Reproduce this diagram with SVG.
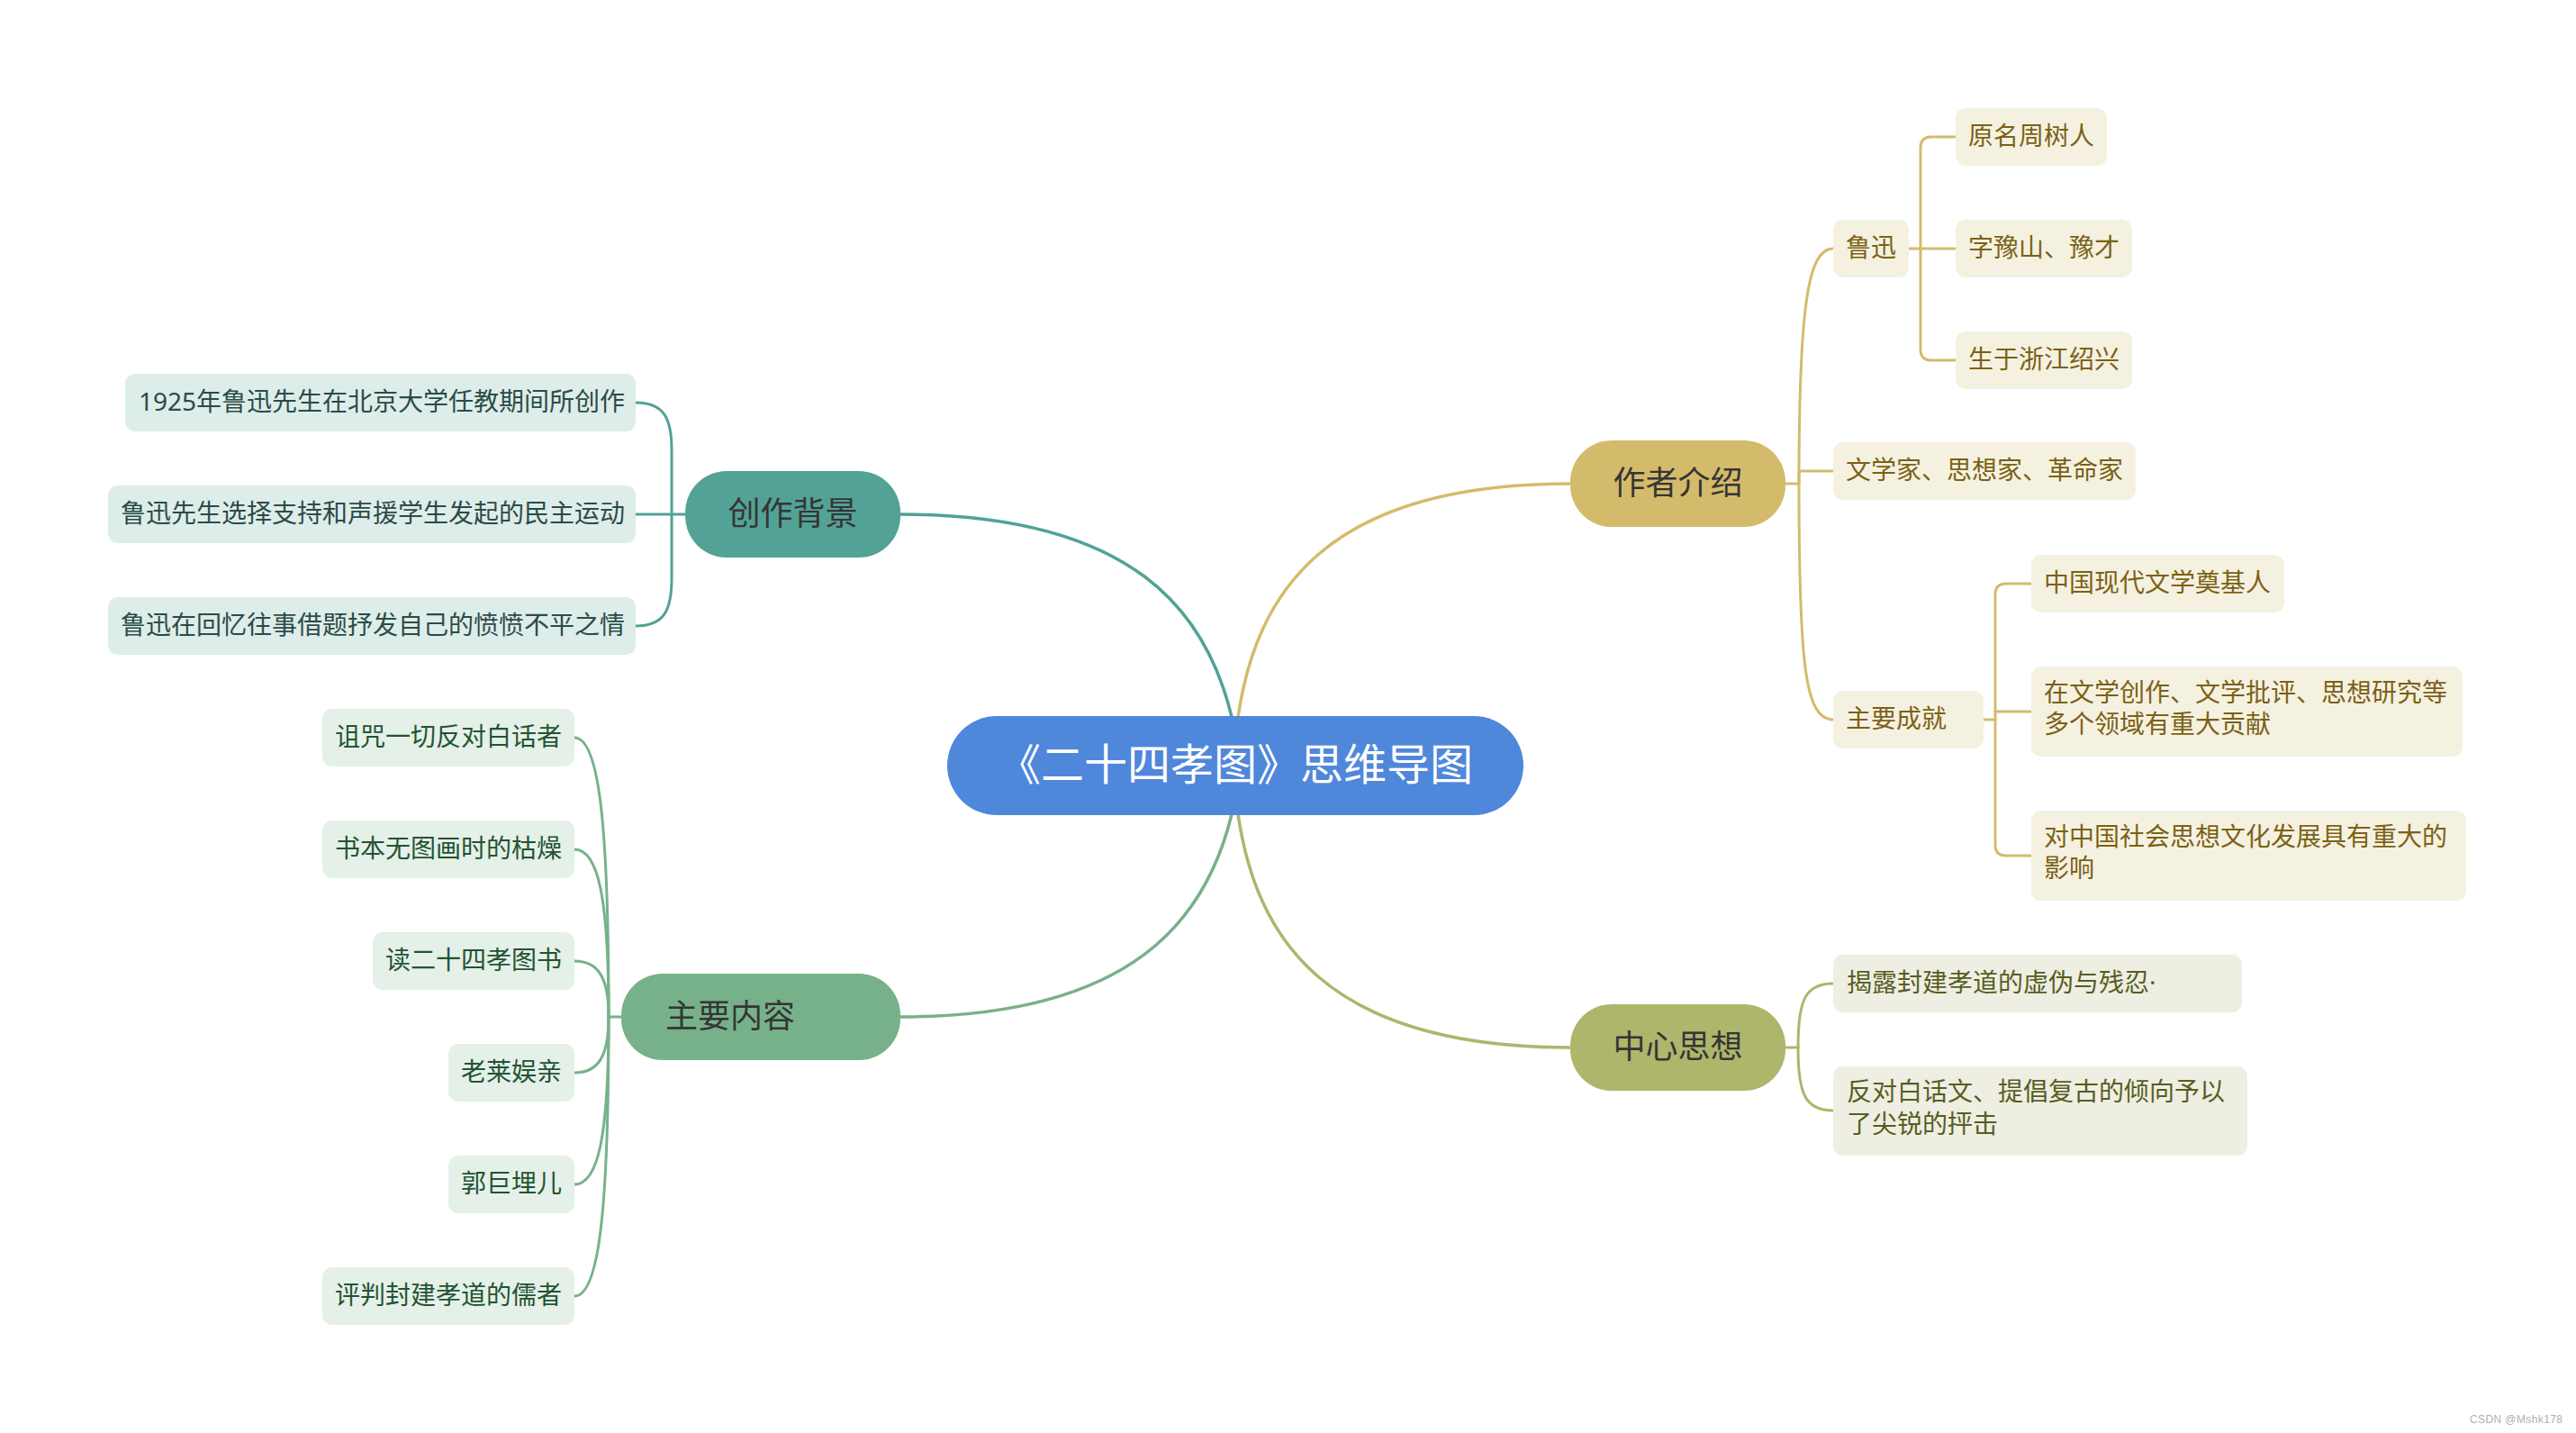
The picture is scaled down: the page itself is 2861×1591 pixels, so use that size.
<svg xmlns="http://www.w3.org/2000/svg" width="2861" height="1591" viewBox="0 0 2861 1591">
<style>
text{font-family:"Noto Sans","Noto Sans CJK SC",sans-serif}
.c{fill:none;stroke-width:3;stroke-linecap:round;stroke-linejoin:round}
.m{stroke-width:3.5}
.teal{stroke:#52a296}.green{stroke:#77b18a}.gold{stroke:#d4bb6b}.olive{stroke:#adb66b}
.l1{font-size:36px;fill:#353535}
.t2{font-size:28px}
.bt{fill:#ddedea}.tt{fill:#2c4b46}
.bg{fill:#e4f0e8}.tg{fill:#235332}
.bo{fill:#f5f1e1}.to{fill:#7b6115}
.bv{fill:#eeeee2}.tv{fill:#575d1f}
</style>
<rect width="2861" height="1591" fill="#ffffff"/>
<g id="connectors">
<path class="c m teal" d="M 1368 796 C 1340 680, 1260 571, 1000 571"/>
<path class="c m gold" d="M 1375 796 C 1395 660, 1470 537, 1744 537"/>
<path class="c m green" d="M 1368 904 C 1340 1019, 1260 1129, 1000 1129"/>
<path class="c m olive" d="M 1375 904 C 1395 1040, 1470 1163, 1744 1163"/>
<path class="c teal" d="M 761 571 L 706 571"/>
<path class="c teal" d="M 746 571 L 746 500 C 746 465, 738 447, 706 447"/>
<path class="c teal" d="M 746 571 L 746 642 C 746 677, 738 695, 706 695"/>
<path class="c green" d="M 690 1129 L 676 1129"/>
<path class="c green" d="M 638 819 C 665 819, 676 912, 676 1129"/>
<path class="c green" d="M 638 943 C 665 943, 676 999, 676 1129"/>
<path class="c green" d="M 638 1067 C 665 1067, 676 1086, 676 1129"/>
<path class="c green" d="M 638 1191 C 665 1191, 676 1172, 676 1129"/>
<path class="c green" d="M 638 1315 C 665 1315, 676 1259, 676 1129"/>
<path class="c green" d="M 638 1439 C 665 1439, 676 1346, 676 1129"/>
<path class="c gold" d="M 1983 537 L 1998 537"/>
<path class="c gold" d="M 1998 537 C 1998 340, 2008 276, 2036 276"/>
<path class="c gold" d="M 1998 537 L 1998 523 L 2036 523"/>
<path class="c gold" d="M 1998 537 C 1998 740, 2005 799, 2036 799"/>
<path class="c gold" d="M 2120 276 L 2172 276"/>
<path class="c gold" d="M 2133 276 L 2133 164 Q 2133 152 2145 152 L 2172 152"/>
<path class="c gold" d="M 2133 276 L 2133 388 Q 2133 400 2145 400 L 2172 400"/>
<path class="c gold" d="M 2203 799 L 2216 799"/>
<path class="c gold" d="M 2216 790 L 2256 790"/>
<path class="c gold" d="M 2216 799 L 2216 660 Q 2216 648 2228 648 L 2256 648"/>
<path class="c gold" d="M 2216 799 L 2216 938 Q 2216 950 2228 950 L 2256 950"/>
<path class="c olive" d="M 1983 1163 L 1997 1163"/>
<path class="c olive" d="M 1997 1163 C 1997 1110, 2005 1092, 2036 1092"/>
<path class="c olive" d="M 1997 1163 C 1997 1215, 2005 1233, 2036 1233"/>
</g>
<g id="root">
<rect x="1052" y="795" width="640" height="110" rx="55" fill="#4f87db"/>
<text x="1372" y="866" font-size="48" fill="#ffffff" text-anchor="middle">《二十四孝图》思维导图</text>
</g>
<g id="n-chuangzuo">
<rect x="761" y="523" width="239" height="96" rx="46" fill="#52a296"/>
<text class="l1" x="880.5" y="582.5" text-anchor="middle">创作背景</text>
</g>
<g id="n-cz1"><rect class="bt" x="139" y="415" width="567" height="64" rx="11"/><text class="t2 tt" x="154" y="455.6">1925年鲁迅先生在北京大学任教期间所创作</text></g>
<g id="n-cz2"><rect class="bt" x="120" y="539" width="586" height="64" rx="11"/><text class="t2 tt" x="134" y="579.6">鲁迅先生选择支持和声援学生发起的民主运动</text></g>
<g id="n-cz3"><rect class="bt" x="120" y="663" width="586" height="64" rx="11"/><text class="t2 tt" x="134" y="703.6">鲁迅在回忆往事借题抒发自己的愤愤不平之情</text></g>
<g id="n-zhuyao">
<rect x="690" y="1081" width="310" height="96" rx="46" fill="#77b18a"/>
<text class="l1" x="739" y="1140.7">主要内容</text>
</g>
<g id="n-zy1"><rect class="bg" x="358" y="787" width="280" height="64" rx="11"/><text class="t2 tg" x="372" y="827.6">诅咒一切反对白话者</text></g>
<g id="n-zy2"><rect class="bg" x="358" y="911" width="280" height="64" rx="11"/><text class="t2 tg" x="372" y="951.6">书本无图画时的枯燥</text></g>
<g id="n-zy3"><rect class="bg" x="414" y="1035" width="224" height="64" rx="11"/><text class="t2 tg" x="428" y="1075.6">读二十四孝图书</text></g>
<g id="n-zy4"><rect class="bg" x="498" y="1159" width="140" height="64" rx="11"/><text class="t2 tg" x="512" y="1199.6">老莱娱亲</text></g>
<g id="n-zy5"><rect class="bg" x="498" y="1283" width="140" height="64" rx="11"/><text class="t2 tg" x="512" y="1323.6">郭巨埋儿</text></g>
<g id="n-zy6"><rect class="bg" x="358" y="1407" width="280" height="64" rx="11"/><text class="t2 tg" x="372" y="1447.6">评判封建孝道的儒者</text></g>
<g id="n-zuozhe">
<rect x="1744" y="489" width="239" height="96" rx="46" fill="#d4bb6b"/>
<text class="l1" x="1863.5" y="548.7" text-anchor="middle">作者介绍</text>
</g>
<g id="n-luxun"><rect class="bo" x="2036" y="244" width="84" height="64" rx="11"/><text class="t2 to" x="2050" y="284.6">鲁迅</text></g>
<g id="n-lx1"><rect class="bo" x="2172" y="120" width="168" height="64" rx="11"/><text class="t2 to" x="2186" y="160.6">原名周树人</text></g>
<g id="n-lx2"><rect class="bo" x="2172" y="244" width="196" height="64" rx="11"/><text class="t2 to" x="2186" y="284.6">字豫山、豫才</text></g>
<g id="n-lx3"><rect class="bo" x="2172" y="368" width="196" height="64" rx="11"/><text class="t2 to" x="2186" y="408.6">生于浙江绍兴</text></g>
<g id="n-wenxuejia"><rect class="bo" x="2036" y="491" width="336" height="64" rx="11"/><text class="t2 to" x="2050" y="531.6">文学家、思想家、革命家</text></g>
<g id="n-chengjiu"><rect class="bo" x="2036" y="767" width="167" height="64" rx="11"/><text class="t2 to" x="2050" y="807.6">主要成就</text></g>
<g id="n-cj1"><rect class="bo" x="2256" y="616" width="281" height="64" rx="11"/><text class="t2 to" x="2270" y="656.6">中国现代文学奠基人</text></g>
<g id="n-cj2"><rect class="bo" x="2256" y="740" width="479" height="100" rx="11"/><text class="t2 to" x="2270" y="779">在文学创作、文学批评、思想研究等</text><text class="t2 to" x="2270" y="814">多个领域有重大贡献</text></g>
<g id="n-cj3"><rect class="bo" x="2256" y="900" width="483" height="100" rx="11"/><text class="t2 to" x="2270" y="939">对中国社会思想文化发展具有重大的</text><text class="t2 to" x="2270" y="974">影响</text></g>
<g id="n-zhongxin">
<rect x="1744" y="1115" width="239" height="96" rx="46" fill="#adb66b"/>
<text class="l1" x="1863.5" y="1174.7" text-anchor="middle">中心思想</text>
</g>
<g id="n-zx1"><rect class="bv" x="2036" y="1060" width="454" height="64" rx="11"/><text class="t2 tv" x="2051" y="1100.6">揭露封建孝道的虚伪与残忍·</text></g>
<g id="n-zx2"><rect class="bv" x="2036" y="1184" width="460" height="99" rx="11"/><text class="t2 tv" x="2051" y="1222">反对白话文、提倡复古的倾向予以</text><text class="t2 tv" x="2051" y="1257.5">了尖锐的抨击</text></g>
<text x="2743" y="1580" font-size="12" fill="#b0b0b0" textLength="103" style="font-family:'Liberation Sans',sans-serif">CSDN @Mshk178</text>
</svg>
